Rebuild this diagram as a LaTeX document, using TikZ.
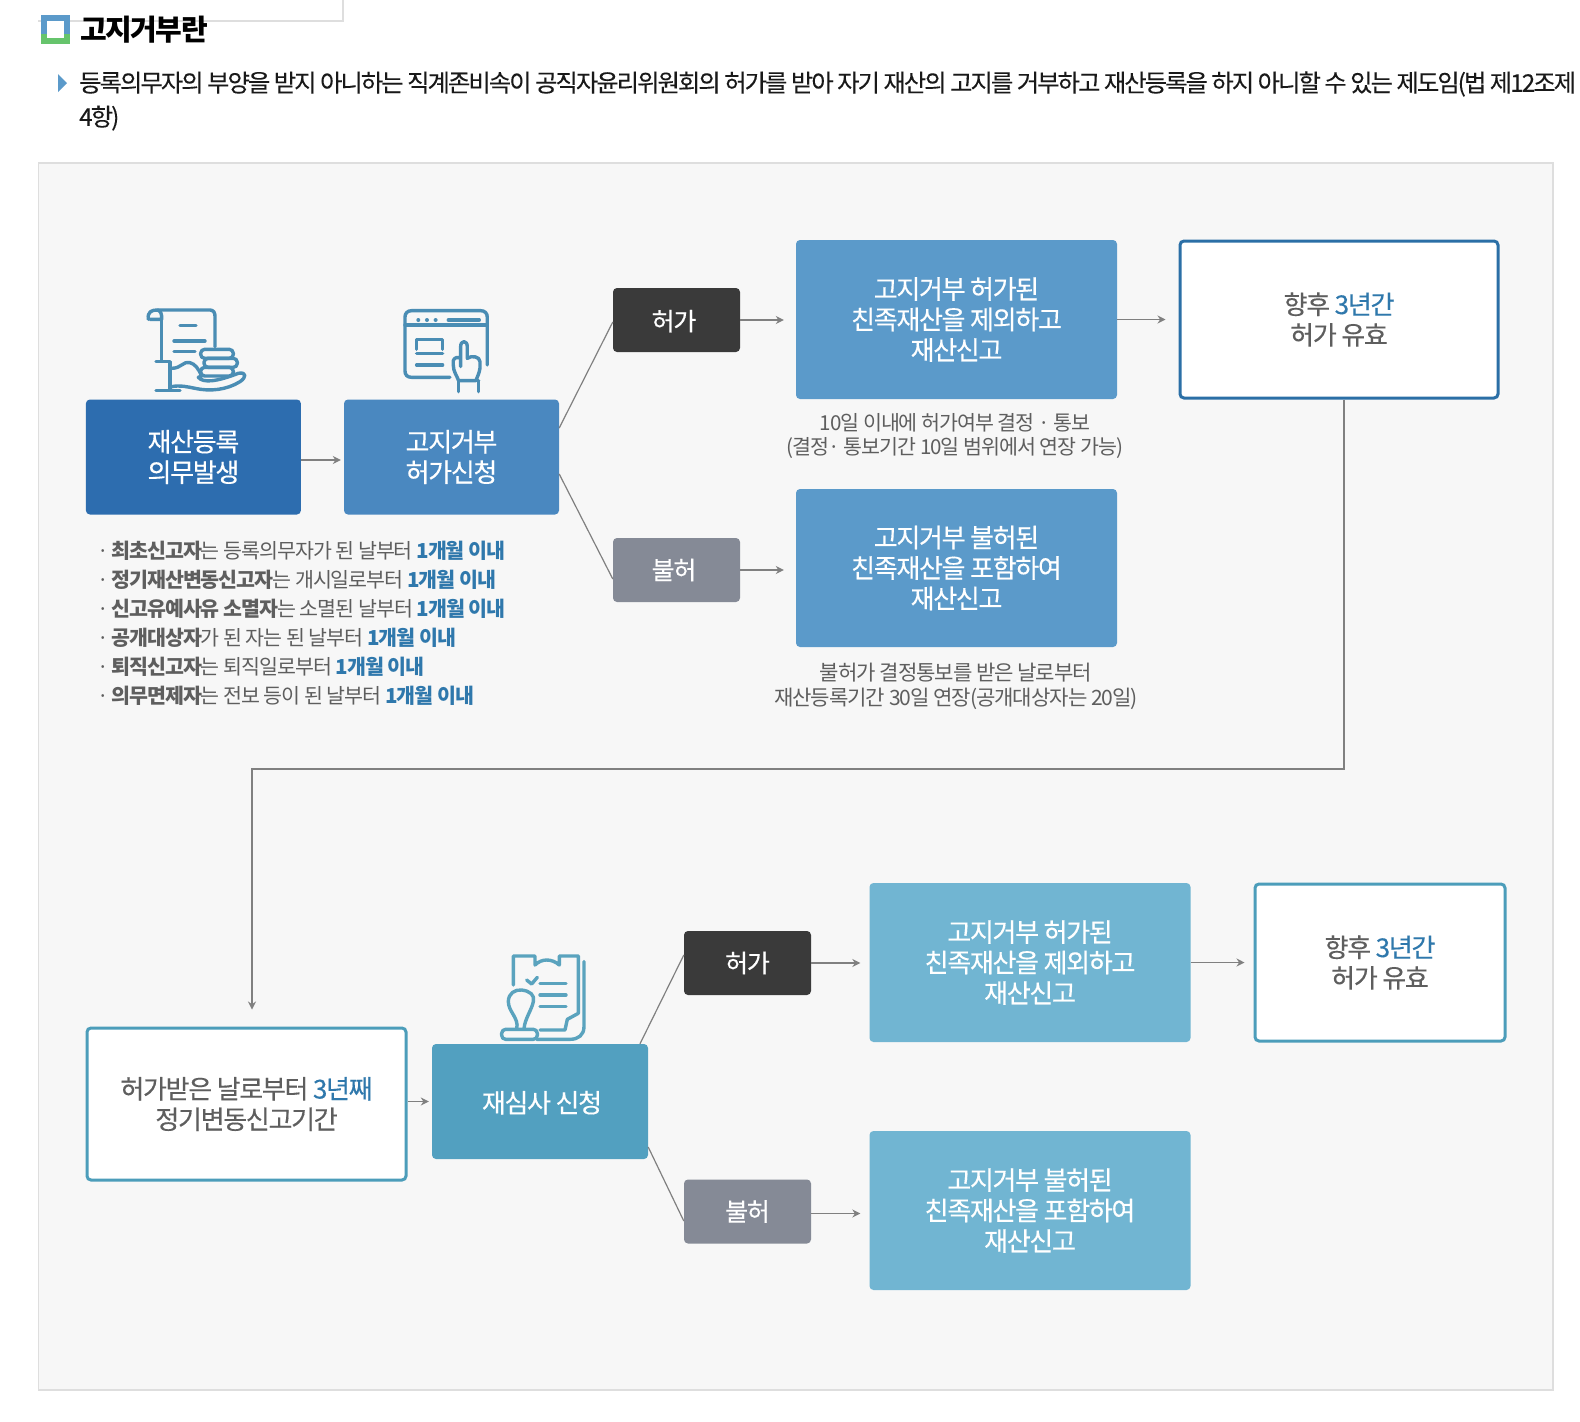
\documentclass[tikz,border=0pt]{standalone}
\usepackage{fontspec}
\setmainfont{Noto Sans CJK KR}[LetterSpace=-5]
\newfontfamily\boxf{Noto Sans CJK KR}[LetterSpace=-5,FakeBold=0.3]
\newfontfamily\leadf{Noto Sans CJK KR}[LetterSpace=-8,FakeBold=0.1]
\usetikzlibrary{arrows.meta,calc}
\definecolor{panelbg}{HTML}{F7F7F7}
\definecolor{panelln}{HTML}{DEDEDE}
\definecolor{cOne}{HTML}{2D6DAF}
\definecolor{cTwo}{HTML}{4A88C0}
\definecolor{cRes}{HTML}{5B9ACA}
\definecolor{cGrn}{HTML}{66C46C}
\definecolor{cWhB}{HTML}{2B6FA6}
\definecolor{cLow}{HTML}{71B5D2}
\definecolor{cRe}{HTML}{52A0C0}
\definecolor{cWhL}{HTML}{4C9DBA}
\definecolor{cDark}{HTML}{3A3A3A}
\definecolor{cGrey}{HTML}{858A96}
\definecolor{cTxt}{HTML}{5E5E5E}
\definecolor{cBlue}{HTML}{2F78AC}
\definecolor{cIcon}{HTML}{4A8DB4}
\definecolor{cIconB}{HTML}{5AA3BE}
\definecolor{cArr}{HTML}{808080}
\newcommand{\fsz}[2]{\fontsize{#1}{#2}\selectfont}
\newcommand{\hl}[1]{\textcolor{cBlue}{#1}}
\newcommand{\dnh}{0}
\newcommand{\lowertext}{\rule{0pt}{25pt}}
\tikzset{
  x=1pt,y=-1pt,
  dn/.store in=\dnh,
  boxbase/.style={rounded corners=4pt,inner sep=0pt,align=center,text=white,font=\boxf\fsz{26}{30.5},execute at begin node={\rule{0pt}{\dnh pt}}},
  fillbox/.style={boxbase,fill=#1,minimum width=321pt,minimum height=159pt,dn=25},
  appbox/.style={boxbase,fill=#1,minimum width=215pt,minimum height=115pt,dn=0},
  tagbox/.style={boxbase,fill=#1,minimum width=127pt,minimum height=64pt,font=\boxf\fsz{25}{30}},
  whitebox/.style={boxbase,fill=white,draw=#1,line width=3pt,text=cTxt,dn=25},
  note/.style={align=center,inner sep=0pt,text=cTxt},
  arr/.style={draw=cArr,line width=1.2pt,-{Stealth[length=8pt,width=8pt]}},
  diag/.style={draw=cArr,line width=1.2pt},
  ico/.style={draw=#1,line width=3.4pt,line cap=round,line join=round,fill=none}
}
\begin{document}
\begin{tikzpicture}
\useasboundingbox (0,0) rectangle (1580,1422);
\fill[white] (0,0) rectangle (1580,1422);
% top stub
\draw[panelln,line width=1.5pt] (38,21) -- (343,21) -- (343,0);
% title marker
\fill[white] (41,15) rectangle (70,44);
\fill[cRes] (41,15) rectangle (70,34);
\fill[cGrn] (41,34) rectangle (70,44);
\fill[white] (47,21) rectangle (64,38);
\node[anchor=west,inner sep=0pt,font=\fsz{29}{34}\bfseries,text=black] (title) at (80,30) {고지거부란};
\fill[cRes] (58,74) -- (67,83) -- (58,92) -- cycle;
\node[anchor=west,inner sep=0pt,font=\leadf\fsz{24.3}{34},text=black!90,align=left] (lead) at (79,101) {등록의무자의 부양을 받지 아니하는 직계존비속이 공직자윤리위원회의 허가를 받아 자기 재산의 고지를 거부하고 재산등록을 하지 아니할 수 있는 제도임(법 제12조제\\4항)};
% panel
\draw[panelln,fill=panelbg,line width=1.5pt] (38.5,163) rectangle (1553,1390);

% upper row
\node[appbox=cOne] (duty) at (193.4,457) {재산등록\hspace{-3pt}\\의무발생};
\node[appbox=cTwo] (apply) at (451.5,457) {고지거부\\허가신청};
\node[tagbox=cDark,dn=23] (yes) at (676.5,320) {허가\hspace{5pt}};
\node[tagbox=cGrey,dn=18] (no) at (676.5,570) {불허\hspace{5pt}};
\node[fillbox=cRes] (resA) at (956.5,319.5) {고지거부 허가된\\친족재산을 제외하고\\재산신고};
\node[fillbox=cRes,minimum height=158pt] (resB) at (956.5,568) {고지거부 불허된\\친족재산을 포함하여\\재산신고};
\node[whitebox=cWhB,minimum width=318pt,minimum height=157pt] (white1) at (1339,319.5) {향후 \hl{3년간}\\허가 유효};
\node[note,font=\fsz{20.6}{24.5}] (n1) at (955,436) {10일 이내에 허가여부 결정 · 통보\\(결정· 통보기간 10일 범위에서 연장 가능)};
\node[note,font=\fsz{21.1}{24.5}] (n2) at (956,686.5) {불허가 결정통보를 받은 날로부터\\재산등록기간 30일 연장(공개대상자는 20일)};
\node[anchor=north west,inner sep=0pt,align=left,text=cTxt,font=\fsz{20.6}{29}] (list) at (97,541) {
· \textbf{최초신고자}는 등록의무자가 된 날부터 \hl{\textbf{1개월 이내}}\\
· \textbf{정기재산변동신고자}는 개시일로부터 \hl{\textbf{1개월 이내}}\\
· \textbf{신고유예사유 소멸자}는 소멸된 날부터 \hl{\textbf{1개월 이내}}\\
· \textbf{공개대상자}가 된 자는 된 날부터 \hl{\textbf{1개월 이내}}\\
· \textbf{퇴직신고자}는 퇴직일로부터 \hl{\textbf{1개월 이내}}\\
· \textbf{의무면제자}는 전보 등이 된 날부터 \hl{\textbf{1개월 이내}}};

% lower row
\node[whitebox=cWhL,minimum width=319pt,minimum height=152pt,dn=27] (white3) at (246.5,1104) {허가받은 날로부터 \hl{3년째}\\정기변동신고기간};
\node[appbox=cRe,minimum width=216pt,dn=24] (review) at (540,1101.5) {\hspace{4pt}재심사 신청};
\node[tagbox=cDark,dn=20] (yes2) at (747.5,963) {허가};
\node[tagbox=cGrey,dn=20] (no2) at (747.5,1211.5) {불허};
\node[fillbox=cLow] (resC) at (1030,962.5) {고지거부 허가된\\친족재산을 제외하고\\재산신고};
\node[fillbox=cLow] (resD) at (1030,1210.5) {고지거부 불허된\\친족재산을 포함하여\\재산신고};
\node[whitebox=cWhL,minimum width=250pt,minimum height=157pt,dn=27] (white2) at (1380,962.5) {향후 \hl{3년간}\\허가 유효};

% connectors
\draw[arr,shorten >=3pt] ([yshift=-3pt]duty.east) -- ([yshift=-3pt]duty.east -| apply.west);
\draw[diag] ([yshift=29pt]apply.east) -- ([yshift=-2pt]yes.west);
\draw[diag] ([yshift=-17pt]apply.east) -- ([yshift=-9pt]no.west);
\draw[arr,shorten >=12pt] (yes.east) -- (yes.east -| resA.west);
\draw[arr,shorten >=12pt] (no.east) -- (no.east -| resB.west);
\draw[arr,shorten >=13pt] (resA.east) -- (resA.east -| white1.west);
\coordinate (turn) at (800,769);
\draw[arr,shorten >=17pt] ([xshift=5pt]white1.south) |- (turn) -| ([xshift=5.5pt]white3.north);
\draw[arr,shorten >=3pt] (white3.east |- review.east) -- (review.west);
\draw[diag] ([xshift=100pt]review.north) -- ([yshift=8pt]yes2.west);
\draw[diag] ([yshift=-45.5pt]review.east) -- ([yshift=-9.5pt]no2.west);
\draw[arr,shorten >=9pt] (yes2.east) -- (yes2.east -| resC.west);
\draw[arr,shorten >=9pt] ([yshift=-2pt]no2.east) -- ([yshift=-2pt]no2.east -| resD.west);
\draw[arr,shorten >=9pt] (resC.east) -- (resC.east -| white2.west);

% icon: scroll, coins, hand
\begin{scope}[shift={(70,290)},x=0.3333pt,y=-0.3333pt]
\draw[ico=cIcon] (235,88) .. controls (232,65) and (245,60) .. (262,60) -- (420,60) .. controls (430,60) and (435,68) .. (435,78) -- (435,170);
\draw[ico=cIcon] (262,60) .. controls (272,62) and (276,72) .. (275,88) -- (240,88);
\draw[ico=cIcon] (275,88) -- (275,215) -- (258,215) -- (300,215) -- (300,302) -- (258,302) -- (330,302);
\draw[ico=cIcon] (330,107) -- (378,107) (312,153) -- (405,153) (312,185) -- (375,185);
\draw[ico=cIcon,rounded corners=4pt] (392,178) rectangle (490,205);
\draw[ico=cIcon,rounded corners=4pt] (402,205) rectangle (502,232);
\draw[ico=cIcon,rounded corners=4pt] (392,232) rectangle (490,258);
\draw[ico=cIcon] (305,235) .. controls (335,235) and (340,212) .. (360,218) .. controls (375,222) and (385,235) .. (395,258) -- (385,262) .. controls (400,280) and (440,275) .. (505,250) .. controls (530,245) and (530,262) .. (510,275) .. controls (470,300) and (420,305) .. (375,295) .. controls (350,290) and (330,285) .. (305,290);
\end{scope}

% icon: window and hand
\begin{scope}[shift={(70,290)},x=0.3333pt,y=-0.3333pt]
\draw[ico=cIcon] (1140,262) -- (1025,262) .. controls (1012,262) and (1005,255) .. (1005,242) -- (1005,82) .. controls (1005,70) and (1012,62) .. (1025,62) -- (1232,62) .. controls (1245,62) and (1252,70) .. (1252,82) -- (1252,225);
\draw[ico=cIcon] (1005,105) -- (1252,105);
\fill[cIcon] (1045,90) circle (2pt) (1071,90) circle (2pt) (1097,90) circle (2pt);
\draw[ico=cIcon] (1135,90) -- (1228,90);
\draw[ico=cIcon] (1040,178) -- (1040,148) -- (1118,148) -- (1118,178);
\draw[ico=cIcon] (1040,190) -- (1118,190) (1040,225) -- (1118,225);
\draw[ico=cIcon] (1172,230) -- (1172,170) .. controls (1172,150) and (1192,150) .. (1192,170) -- (1192,205) .. controls (1205,195) and (1230,200) .. (1230,215) -- (1230,235) .. controls (1228,250) and (1222,260) .. (1218,272) -- (1166,272) .. controls (1160,255) and (1150,245) .. (1150,225) -- (1150,212) .. controls (1152,202) and (1165,200) .. (1172,205);
\draw[ico=cIcon] (1166,272) -- (1166,305) (1226,272) -- (1226,305) (1166,272) -- (1226,272);
\end{scope}

% icon: clipboard and stamp
\begin{scope}[shift={(480,930)},x=0.3333pt,y=-0.3333pt]
\draw[ico=cIconB] (100,165) -- (100,78) -- (165,78) -- (165,105) .. controls (185,85) and (215,85) .. (238,105) -- (238,78) -- (295,78) -- (295,250) -- (262,268) -- (255,300) -- (180,300);
\draw[ico=cIconB] (312,95) -- (312,290) .. controls (312,315) and (295,328) .. (270,328) -- (170,328);
\draw[ico=cIconB] (140,150) -- (155,162) -- (172,142);
\draw[ico=cIconB] (180,160) -- (258,160) (180,195) -- (258,195) (180,230) -- (258,230);
\draw[ico=cIconB] (110,296) .. controls (118,265) and (85,245) .. (85,215) .. controls (85,190) and (105,178) .. (125,180) .. controls (150,183) and (165,195) .. (160,215) .. controls (155,240) and (135,265) .. (132,296);
\draw[ico=cIconB,rounded corners=4pt] (65,298) rectangle (172,328);
\end{scope}
\end{tikzpicture}
\end{document}
